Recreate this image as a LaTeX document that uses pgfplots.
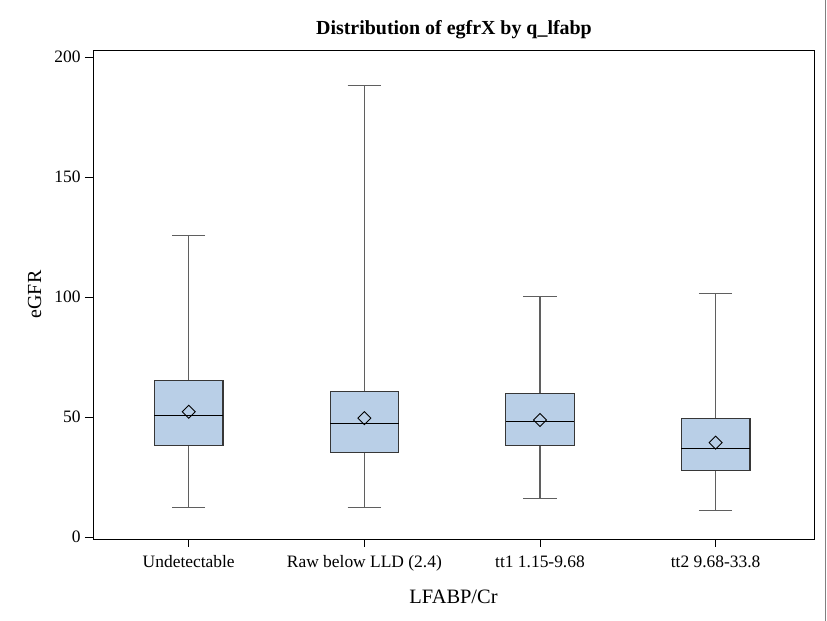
\documentclass[border=0pt]{standalone}
\usepackage{pgfplots}
\pgfplotsset{compat=1.18}
\usepgfplotslibrary{statistics}
\usepackage{fontspec}
\setmainfont{Liberation Serif}
\definecolor{boxblue}{RGB}{185,207,231}
\definecolor{boxedge}{RGB}{55,55,55}
\definecolor{whisk}{RGB}{95,95,95}
\pgfplotsset{
  mybox/.style={
    solid, draw=boxedge, fill=boxblue, line width=1.2pt, mark=none,
    boxplot/every median/.style={draw=black, line width=1.1pt},
    boxplot/every whisker/.style={draw=whisk, line width=1.1pt},
  },
}
\begin{document}
\begin{tikzpicture}
\useasboundingbox (0,0) rectangle (827bp,621bp);
\begin{axis}[
  at={(93bp,82bp)}, anchor=south west,
  scale only axis, width=721bp, height=489bp,
  boxplot/draw direction=y,
  xmin=0.455, xmax=4.56, ymin=-0.83, ymax=202.9,
  xtick={1,2,3,4},
  xticklabels={Undetectable, Raw below LLD (2.4), tt1 1.15-9.68, tt2 9.68-33.8},
  ytick={0,50,100,150,200},
  tick align=outside, xtick pos=left, ytick pos=left,
  major tick length=8bp,
  tick style={black, line width=0.8pt},
  axis line style={black, line width=0.9pt},
  /pgf/number format/assume math mode=true,
  ticklabel style={font=\fontsize{17.5}{19}\selectfont},
  xticklabel style={yshift=-5bp},
  yticklabel style={xshift=-1bp},
]
\addplot+[mybox, boxplot prepared={draw position=1, lower whisker=12.2, lower quartile=38.0, median=50.5, upper quartile=65.1, upper whisker=125.8, box extend=0.39, whisker extend=0.19}] coordinates {};
\addplot+[mybox, boxplot prepared={draw position=2, lower whisker=12.2, lower quartile=35.3, median=47.4, upper quartile=60.7, upper whisker=188.0, box extend=0.39, whisker extend=0.19}] coordinates {};
\addplot+[mybox, boxplot prepared={draw position=3, lower whisker=16.0, lower quartile=38.0, median=48.3, upper quartile=59.7, upper whisker=100.3, box extend=0.39, whisker extend=0.19}] coordinates {};
\addplot+[mybox, boxplot prepared={draw position=4, lower whisker=11.0, lower quartile=27.8, median=36.95, upper quartile=49.3, upper whisker=101.4, box extend=0.39, whisker extend=0.19}] coordinates {};
\addplot[only marks, mark=diamond, mark size=6.5bp, mark options={xscale=1.33, draw=black, line width=0.9pt, fill=none}] coordinates {(1,52.2) (2,49.5) (3,48.75) (4,39.3)};
\end{axis}
\node[anchor=base, font=\fontsize{20}{23}\selectfont\bfseries] at (454bp,586bp) {Distribution of egfrX by q\_lfabp};
\node[anchor=base, font=\fontsize{20.5}{23}\selectfont] at (453.5bp,18bp) {LFABP/Cr};
\node[anchor=base, rotate=90, font=\fontsize{20}{23}\selectfont] at (41bp,326.5bp) {eGFR};
\draw[gray, line width=1.2bp] (825.5bp,0) -- (825.5bp,621bp);
\end{tikzpicture}
\end{document}
